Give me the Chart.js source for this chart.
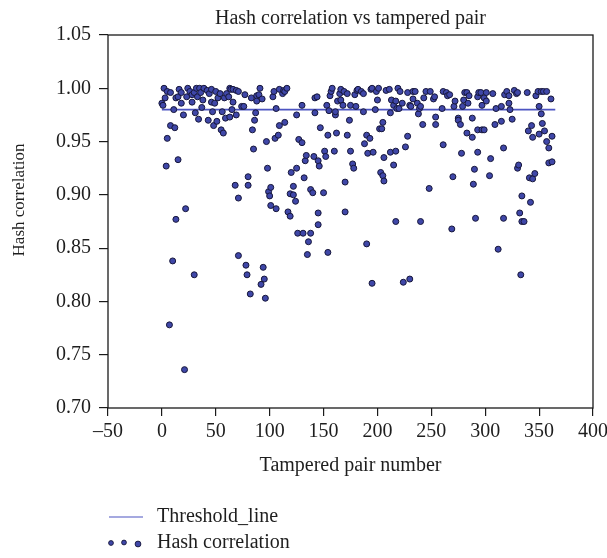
<!DOCTYPE html>
<html>
<head>
<meta charset="utf-8">
<script src="https://cdn.jsdelivr.net/npm/chart.js@4.4.1/dist/chart.umd.min.js"></script>
<style>
  html, body { margin: 0; padding: 0; background: #ffffff; }
  canvas { display: block; }
</style>
</head>
<body>
<canvas id="chart" width="607" height="558"></canvas>
<script>
// Tampered pair index and the hash correlation measured for it
const pairNumbers = [
  0, 1, 2, 3, 4, 5, 5, 7, 8, 8, 10, 11, 12, 13, 13, 15, 15, 16, 18, 18,
  20, 21, 22, 23, 24, 26, 28, 28, 30, 30, 31, 32, 33, 34, 35, 36, 37, 38, 39, 42,
  43, 44, 46, 46, 47, 48, 49, 50, 51, 52, 54, 55, 56, 57, 58, 59, 60, 62, 63, 63,
  64, 65, 66, 66, 68, 69, 69, 71, 71, 71, 74, 76, 77, 78, 79, 80, 80, 82, 83, 84,
  85, 86, 87, 88, 88, 90, 91, 92, 93, 94, 95, 96, 97, 98, 99, 100, 101, 101, 103, 104,
  105, 106, 106, 108, 109, 109, 112, 113, 114, 114, 116, 117, 119, 119, 120, 122, 122, 124, 125, 125,
  126, 127, 130, 130, 131, 132, 133, 134, 135, 136, 138, 138, 140, 141, 142, 142, 144, 145, 145, 145,
  146, 147, 150, 151, 152, 153, 154, 154, 155, 156, 157, 158, 160, 161, 161, 162, 163, 165, 166, 166,
  168, 169, 170, 170, 172, 172, 174, 175, 175, 177, 178, 179, 180, 181, 182, 185, 187, 187, 188, 190,
  190, 191, 193, 194, 195, 195, 196, 198, 199, 200, 201, 202, 203, 204, 205, 205, 206, 206, 208, 211,
  212, 212, 213, 215, 215, 217, 217, 217, 218, 219, 220, 221, 223, 224, 226, 228, 228, 230, 230, 231,
  233, 233, 235, 237, 238, 239, 240, 240, 242, 243, 245, 248, 249, 252, 253, 254, 254, 260, 261, 261,
  264, 265, 267, 269, 270, 271, 272, 275, 275, 277, 278, 279, 280, 281, 283, 283, 284, 285, 288, 288,
  289, 290, 291, 293, 293, 293, 294, 296, 297, 297, 299, 299, 301, 301, 304, 305, 307, 309, 310, 312,
  315, 315, 317, 317, 318, 320, 322, 322, 323, 325, 327, 329, 330, 330, 331, 332, 333, 334, 334, 336,
  339, 340, 341, 342, 343, 344, 344, 346, 347, 349, 350, 350, 352, 352, 353, 354, 355, 357, 357, 359,
  359, 361, 362, 362
];
const hashCorrelation = [
  0.986, 0.984, 1.000, 0.991, 0.927, 0.997, 0.953, 0.778, 0.996, 0.965, 0.838, 0.980, 0.963, 0.877, 0.991, 0.933, 0.992, 0.999, 0.996, 0.986,
  0.975, 0.736, 0.887, 0.992, 1.000, 0.997, 0.994, 0.987, 0.996, 0.825, 0.977, 1.000, 0.992, 0.971, 1.000, 0.996, 0.982, 0.989, 1.000, 0.998,
  0.970, 0.995, 0.999, 0.987, 0.978, 0.965, 0.986, 0.997, 0.969, 0.991, 0.995, 0.961, 0.978, 0.958, 0.991, 0.972, 0.995, 0.992, 1.000, 0.973,
  0.999, 0.980, 0.999, 0.987, 0.909, 0.975, 0.998, 0.897, 0.843, 0.997, 0.983, 0.983, 0.994, 0.834, 0.825, 0.909, 0.917, 0.807, 0.991, 0.961,
  0.943, 0.970, 0.977, 0.993, 0.988, 0.994, 1.000, 0.816, 0.990, 0.832, 0.821, 0.803, 0.950, 0.925, 0.903, 0.899, 0.890, 0.907, 0.992, 0.997,
  0.953, 0.981, 0.887, 0.956, 0.965, 0.999, 0.995, 0.998, 0.997, 0.968, 1.000, 0.884, 0.880, 0.901, 0.921, 0.908, 0.900, 0.894, 0.925, 0.975,
  0.864, 0.952, 0.949, 0.984, 0.864, 0.916, 0.932, 0.937, 0.844, 0.856, 0.864, 0.905, 0.902, 0.936, 0.977, 0.991, 0.992, 0.883, 0.872, 0.932,
  0.927, 0.963, 0.902, 0.941, 0.936, 0.984, 0.956, 0.846, 0.979, 0.993, 0.997, 1.000, 0.941, 0.975, 0.978, 0.958, 0.988, 0.995, 0.999, 0.989,
  0.984, 0.997, 0.884, 0.912, 0.956, 0.995, 0.970, 0.941, 0.984, 0.929, 0.925, 0.994, 0.983, 0.998, 0.999, 0.997, 0.995, 0.978, 0.948, 0.854,
  0.956, 0.939, 0.953, 0.999, 0.817, 1.000, 0.940, 0.980, 0.997, 0.989, 1.000, 0.962, 0.921, 0.962, 0.968, 0.918, 0.935, 0.913, 0.998, 0.999,
  0.977, 0.940, 0.989, 0.984, 0.928, 0.941, 0.875, 0.988, 0.981, 1.000, 0.981, 0.997, 0.986, 0.818, 0.945, 0.996, 0.955, 0.821, 0.984, 0.983,
  0.997, 0.990, 0.997, 0.986, 0.976, 0.981, 0.983, 0.875, 0.966, 0.991, 0.997, 0.906, 0.997, 0.990, 0.992, 0.973, 0.966, 0.981, 0.997, 0.947,
  0.996, 0.993, 0.994, 0.868, 0.917, 0.983, 0.988, 0.972, 0.970, 0.966, 0.939, 0.983, 0.989, 0.996, 0.996, 0.958, 0.986, 0.993, 0.972, 0.954,
  0.910, 0.924, 0.878, 0.992, 0.961, 0.940, 0.996, 0.996, 0.961, 0.984, 0.961, 0.991, 0.996, 0.988, 0.918, 0.934, 0.995, 0.966, 0.981, 0.849,
  0.983, 0.969, 0.944, 0.878, 0.994, 0.997, 0.993, 0.986, 0.980, 0.971, 0.998, 0.995, 0.996, 0.925, 0.928, 0.883, 0.825, 0.899, 0.875, 0.875,
  0.996, 0.960, 0.916, 0.893, 0.965, 0.915, 0.954, 0.920, 0.993, 0.997, 0.983, 0.957, 0.997, 0.976, 0.967, 0.997, 0.960, 0.997, 0.950, 0.944,
  0.930, 0.990, 0.955, 0.931
];

// Decision threshold and the span of pairs it covers
const thresholdValue = 0.98;
const thresholdSpan = [0, 365];

// Axis tick labels
const xTickLabels = ['\u201350', '0', '50', '100', '150', '200', '250', '300', '350', '400'];
const yTickLabels = ['0.70', '0.75', '0.80', '0.85', '0.90', '0.95', '1.00', '1.05'];

const SERIF = '"Liberation Serif", "Times New Roman", Times, serif';
const INK = '#1e1e1e';
const POINT_FILL = '#3f47a8';
const POINT_EDGE = '#16163a';
const LINE_COLOR = '#4d55c2';

Chart.defaults.font.family = SERIF;
Chart.defaults.font.size = 20;
Chart.defaults.color = INK;

const scatterPoints = pairNumbers.map((x, i) => ({ x: x, y: hashCorrelation[i] }));
const thresholdPoints = thresholdSpan.map(x => ({ x: x, y: thresholdValue }));

// Box around the plotting area
const framePlugin = {
  id: 'frame',
  beforeDatasetsDraw(chart) {
    const { ctx, chartArea: a } = chart;
    ctx.save();
    ctx.strokeStyle = '#1a1a1a';
    ctx.lineWidth = 1.3;
    ctx.strokeRect(a.left, a.top, a.right - a.left, a.bottom - a.top);
    ctx.restore();
  }
};

// Vertical axis caption
const yCaptionPlugin = {
  id: 'yCaption',
  afterDraw(chart) {
    const { ctx } = chart;
    ctx.save();
    ctx.translate(19.5, 200);
    ctx.rotate(-Math.PI / 2);
    ctx.font = '17px ' + SERIF;
    ctx.fillStyle = INK;
    ctx.textAlign = 'center';
    ctx.textBaseline = 'middle';
    ctx.fillText('Hash correlation', 0, 0);
    ctx.restore();
  }
};

// Two-row legend under the axis caption
const legendPlugin = {
  id: 'stackedLegend',
  afterDraw(chart) {
    const { ctx } = chart;
    const ds = chart.data.datasets;
    const line = ds.find(d => d.type === 'line');
    const dots = ds.find(d => d.type === 'scatter');
    ctx.save();
    ctx.font = '20px ' + SERIF;
    ctx.fillStyle = INK;
    ctx.textAlign = 'left';
    ctx.textBaseline = 'middle';

    ctx.strokeStyle = line.borderColor;
    ctx.lineWidth = 1.2;
    ctx.beginPath();
    ctx.moveTo(109, 517);
    ctx.lineTo(143, 517);
    ctx.stroke();
    ctx.fillText(line.label, 157, 517);

    [[111, 543, 2.4], [124, 542.5, 2.4], [138, 544, 2.9]].forEach(([cx, cy, r]) => {
      ctx.beginPath();
      ctx.arc(cx, cy, r, 0, Math.PI * 2);
      ctx.fillStyle = dots.backgroundColor;
      ctx.fill();
      ctx.lineWidth = 0.9;
      ctx.strokeStyle = dots.borderColor;
      ctx.stroke();
    });
    ctx.fillStyle = INK;
    ctx.fillText(dots.label, 157, 543);
    ctx.restore();
  }
};

new Chart(document.getElementById('chart'), {
  data: {
    datasets: [
      {
        type: 'scatter',
        label: 'Hash correlation',
        data: scatterPoints,
        backgroundColor: POINT_FILL,
        borderColor: POINT_EDGE,
        borderWidth: 1,
        pointRadius: 3,
        pointHoverRadius: 3,
        order: 1
      },
      {
        type: 'line',
        label: 'Threshold_line',
        data: thresholdPoints,
        borderColor: LINE_COLOR,
        borderWidth: 1.8,
        pointRadius: 0,
        fill: false,
        order: 2
      }
    ]
  },
  options: {
    responsive: false,
    animation: false,
    devicePixelRatio: 1,
    layout: { padding: { top: 0, right: 14, bottom: 75, left: 0 } },
    plugins: {
      legend: { display: false },
      tooltip: { enabled: false },
      title: {
        display: true,
        fullSize: false,
        text: 'Hash correlation vs tampered pair',
        color: INK,
        font: { size: 20, weight: 'normal' },
        padding: { top: 7, bottom: 4 }
      }
    },
    scales: {
      x: {
        type: 'linear',
        min: -50,
        max: 400,
        border: { display: false },
        grid: { display: true, drawOnChartArea: false, drawTicks: true, tickLength: 8, color: '#1a1a1a', lineWidth: 1.2 },
        ticks: {
          stepSize: 50,
          padding: 4,
          maxRotation: 0,
          color: INK,
          callback: (v, i) => xTickLabels[i]
        },
        title: {
          display: true,
          text: 'Tampered pair number',
          color: INK,
          font: { size: 20 },
          padding: { top: 0, bottom: 5 }
        },
        afterFit(s) { s.height = 75; s.paddingLeft = 0; s.paddingRight = 0; }
      },
      y: {
        type: 'linear',
        min: 0.70,
        max: 1.05,
        border: { display: false },
        grid: { display: true, drawOnChartArea: false, drawTicks: true, tickLength: 9, color: '#1a1a1a', lineWidth: 1.2 },
        ticks: {
          stepSize: 0.05,
          padding: 8,
          color: INK,
          callback: (v, i) => yTickLabels[i]
        },
        afterFit(s) { s.width = 108; }
      }
    }
  },
  plugins: [framePlugin, yCaptionPlugin, legendPlugin]
});
</script>
</body>
</html>
